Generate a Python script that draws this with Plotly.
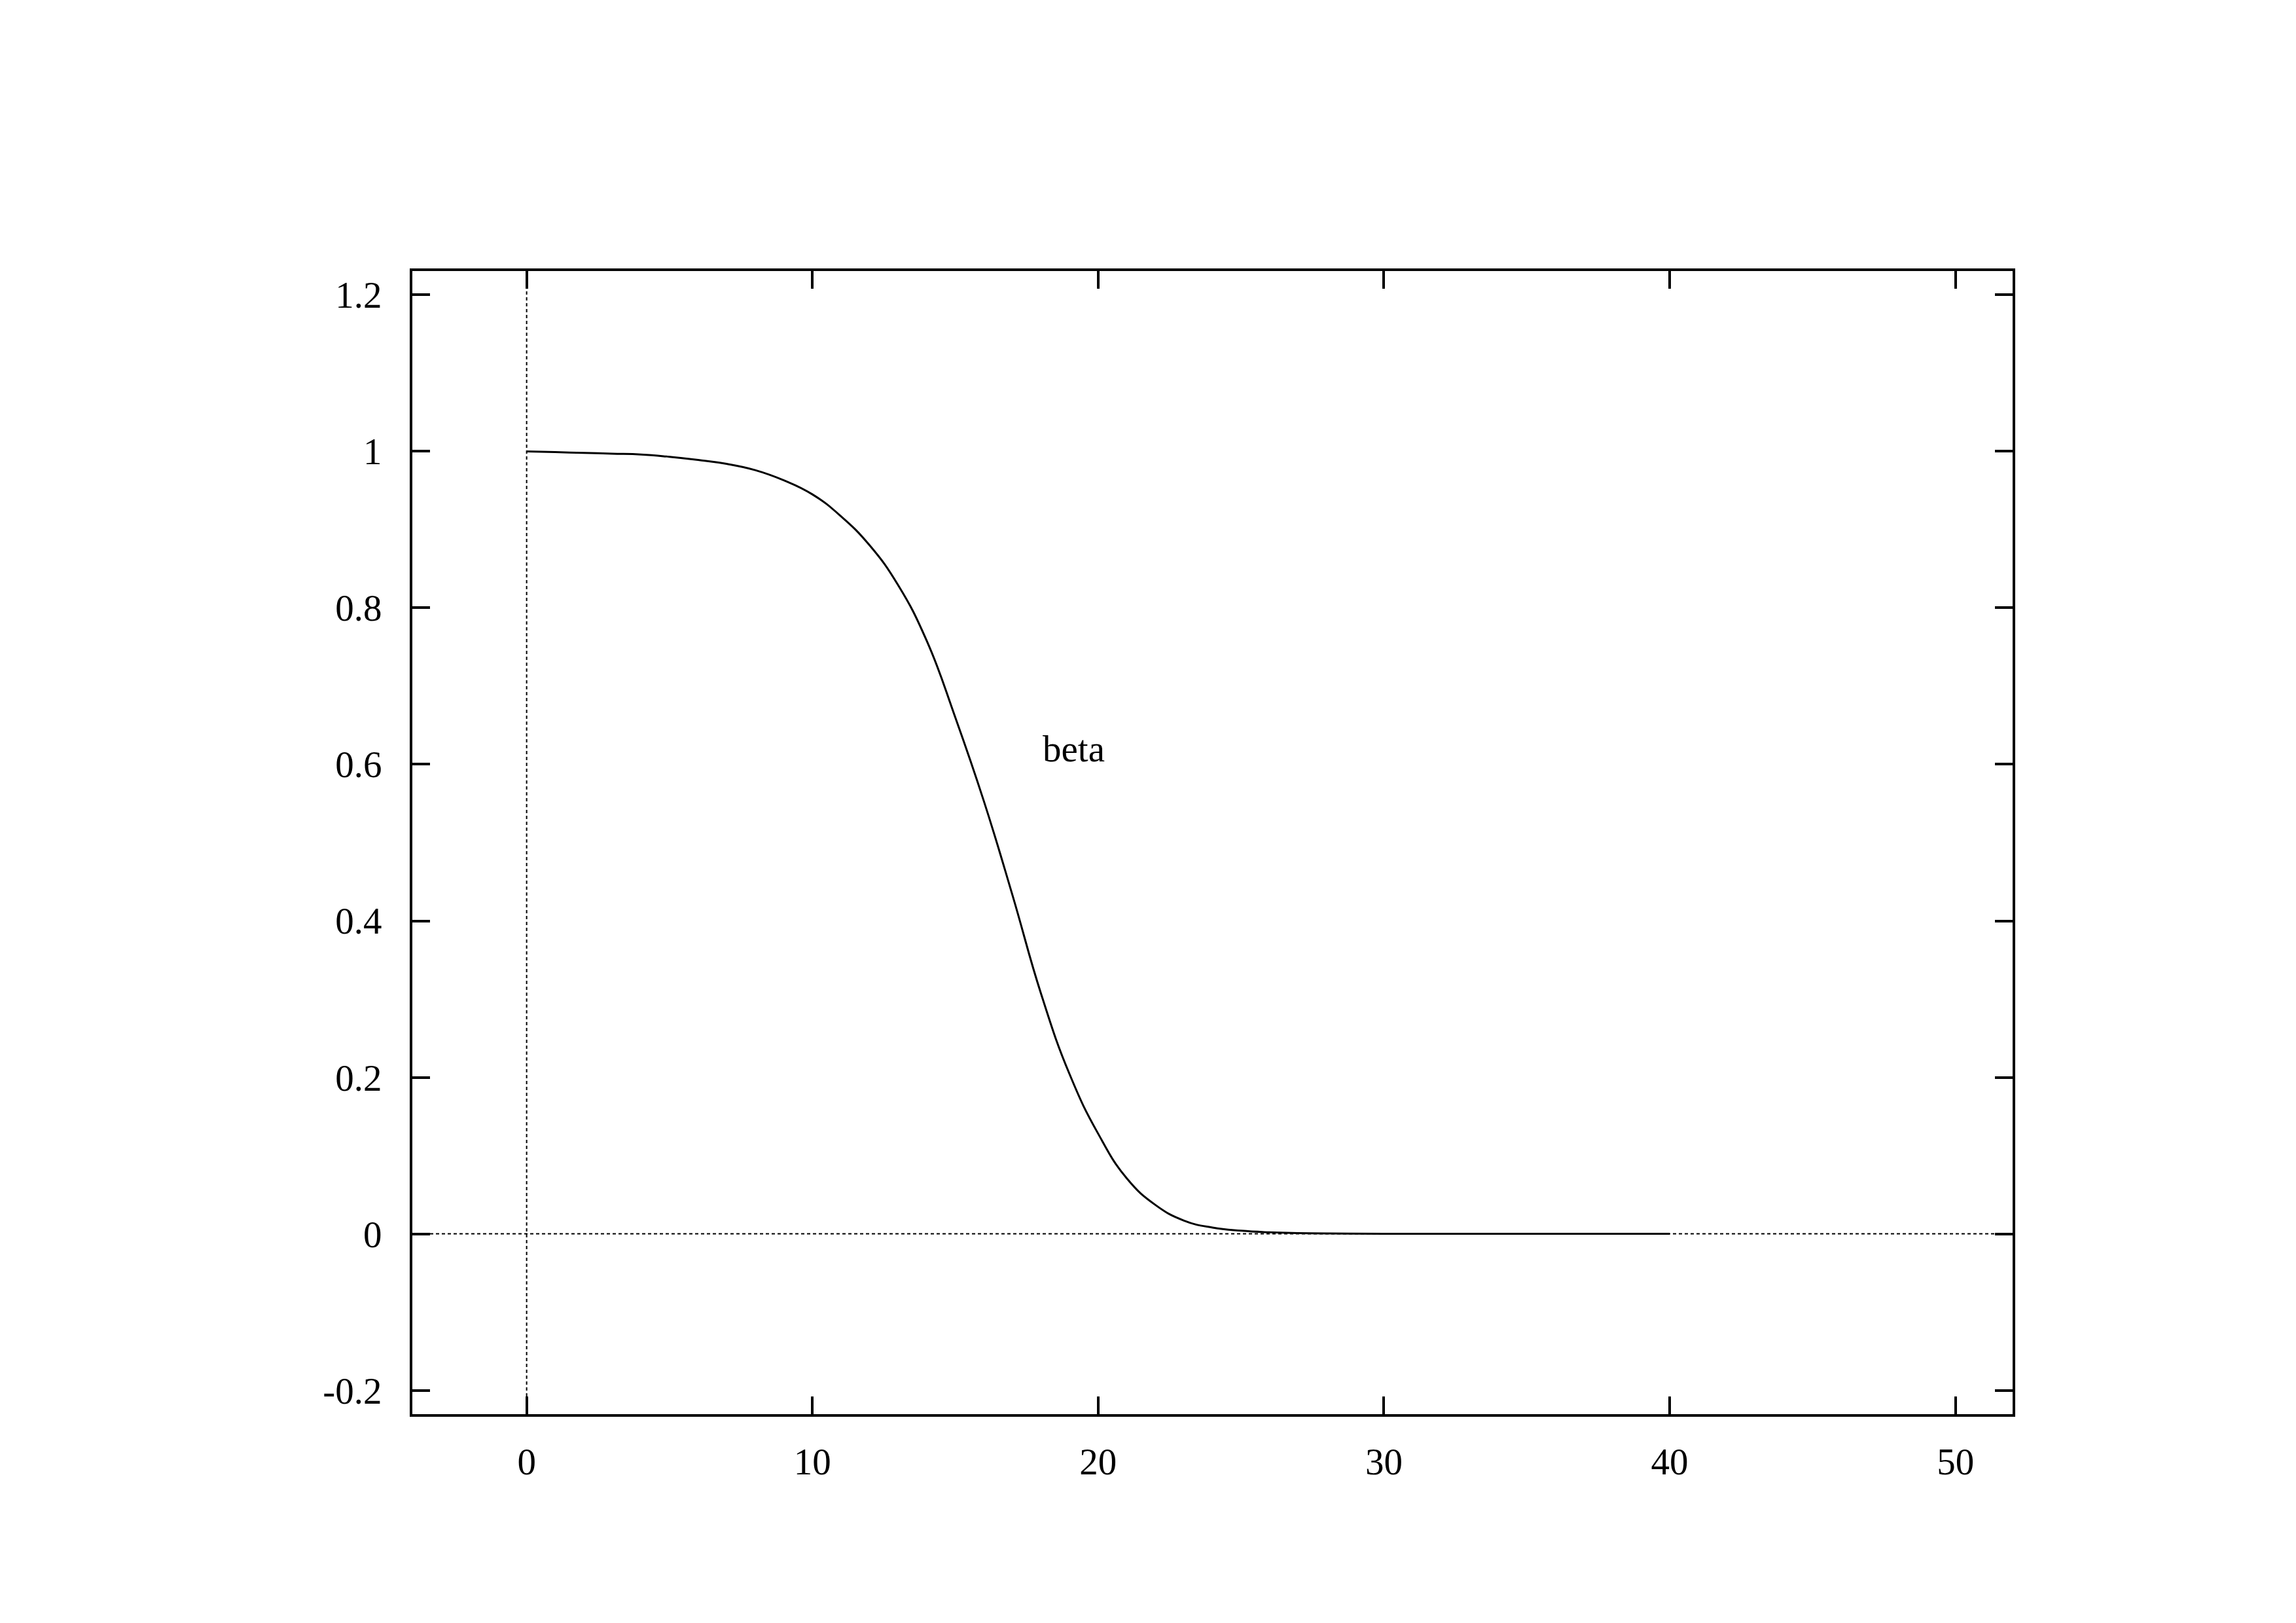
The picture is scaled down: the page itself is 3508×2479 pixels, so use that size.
import plotly.graph_objects as go

# Curve "beta" values
beta_x = [0, 1, 2, 3, 4, 5, 6, 7, 8, 9, 10, 11, 12, 13, 14, 15, 16, 17, 18, 19,
          20, 21, 22, 23, 24, 25, 26, 27, 28, 30, 32, 35, 40]
beta_y = [1.0, 0.999, 0.998, 0.997, 0.996, 0.993, 0.989, 0.984, 0.976, 0.963,
          0.945, 0.917, 0.880, 0.829, 0.758, 0.660, 0.553, 0.433, 0.307, 0.204,
          0.128, 0.071, 0.037, 0.017, 0.008, 0.004, 0.002, 0.001, 0.0005, 0.0002,
          0.0001, 0.0, 0.0]

x_ticks = [0, 10, 20, 30, 40, 50]
x_ticktext = ["0", "10", "20", "30", "40", "50"]
y_ticks = [-0.2, 0, 0.2, 0.4, 0.6, 0.8, 1, 1.2]
y_ticktext = ["-0.2", "0", "0.2", "0.4", "0.6", "0.8", "1", "1.2"]

x_range = [-4, 52]
y_range = [-0.2304, 1.2304]

label_text = "beta"
label_x = 18.0
label_y = 0.62

FONT = "Liberation Serif, Times New Roman, serif"

fig = go.Figure()
fig.add_trace(go.Scatter(
    x=beta_x, y=beta_y, mode="lines",
    line=dict(color="black", width=3, shape="spline", smoothing=1.3),
    showlegend=False, hoverinfo="skip",
))

# dotted zero axes
fig.add_shape(type="line", xref="x", yref="paper", x0=0, x1=0, y0=0, y1=1,
              line=dict(color="black", width=2, dash="5px,4px"), layer="below")
fig.add_shape(type="line", xref="paper", yref="y", x0=0, x1=1, y0=0, y1=0,
              line=dict(color="black", width=2, dash="5px,4px"), layer="below")

fig.add_annotation(x=label_x, y=label_y, text=label_text, showarrow=False,
                   xanchor="left", yanchor="middle",
                   font=dict(family=FONT, size=57, color="black"))

axis_common = dict(
    showgrid=False, zeroline=False, showline=True, linecolor="black", linewidth=4,
    mirror="ticks", ticks="inside", ticklen=27, tickwidth=4, tickcolor="black",
    tickfont=dict(family=FONT, size=57, color="black"),
)

fig.update_xaxes(range=x_range, tickvals=x_ticks, ticktext=x_ticktext,
                 ticklabelstandoff=20, **axis_common)
fig.update_yaxes(range=y_range, tickvals=y_ticks, ticktext=y_ticktext,
                 ticklabelstandoff=31, **axis_common)

fig.update_layout(
    width=3508, height=2479,
    margin=dict(l=622, r=441, t=406, b=327),
    paper_bgcolor="white", plot_bgcolor="white",
    showlegend=False,
)

fig.write_html("out.html")
